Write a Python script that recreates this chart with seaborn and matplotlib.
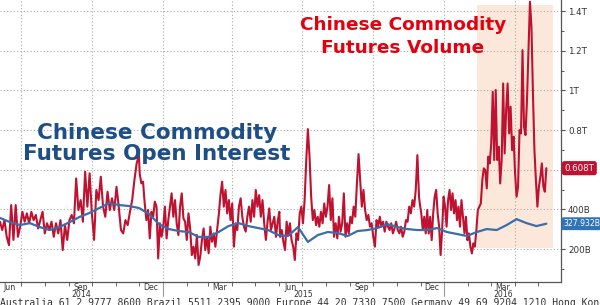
import matplotlib
matplotlib.use("Agg")
import matplotlib.pyplot as plt
import matplotlib.dates as mdates
import matplotlib.transforms as mtransforms
from matplotlib.ticker import MultipleLocator, NullFormatter
import pandas as pd
import seaborn as sns

# ---------------- data (billions) ----------------
# Futures volume in four consecutive stretches
vol_a_span = ("2014-06-04", "2014-12-01")
vol_a = [338, 296, 346, 262, 220, 422, 246, 422, 262, 313, 388, 338, 380, 330, 388,
         346, 372, 304, 346, 388, 279, 330, 296, 338, 262, 330, 279, 346, 195, 321,
         246, 346, 372, 330, 556, 397, 447, 338, 590, 414, 582, 380, 246, 498, 447,
         565, 414, 363, 489, 397, 456, 397, 514, 414, 296, 279, 346, 321, 388, 447,
         548, 632, 674]
vol_b_span = ("2014-12-02", "2015-06-01")
vol_b = [582, 531, 540, 430, 346, 397, 254, 388, 363, 439, 414, 153, 330, 262, 313,
         414, 254, 346, 414, 481, 363, 447, 330, 271, 414, 481, 355, 338, 246, 380,
         304, 170, 212, 153, 271, 120, 162, 246, 304, 195, 262, 179, 313, 237, 279,
         212, 296, 372, 472, 540, 414, 498, 380, 447, 346, 430, 212, 330, 296, 414,
         456, 363, 313, 288, 363, 414, 338, 447, 363, 498, 414, 472, 363, 447, 330,
         246, 338, 405, 296, 330, 363, 262, 338, 388]
vol_c_span = ("2015-06-02", "2015-11-29")
vol_c = [262, 296, 237, 195, 338, 271, 330, 246, 212, 145, 279, 246, 380, 414, 330,
         447, 649, 805, 666, 464, 346, 397, 321, 363, 313, 388, 330, 430, 363, 414,
         523, 346, 456, 262, 330, 254, 363, 288, 330, 481, 262, 330, 279, 363, 330,
         414, 363, 531, 679, 548, 414, 498, 397, 346, 372, 313, 330, 262, 212, 346,
         313, 363, 313, 338, 288, 338, 313, 296, 330, 279, 304, 338, 296, 279, 313,
         262, 288, 346, 338, 414, 380, 447, 414, 498, 674, 464]
vol_d_span = ("2015-11-30", "2016-05-12")
vol_d = [430, 380, 296, 363, 279, 397, 279, 363, 245, 380, 464, 498, 380, 313, 170,
         296, 464, 414, 313, 447, 498, 397, 481, 380, 447, 346, 414, 313, 447, 363,
         279, 363, 245, 279, 212, 178, 229, 212, 296, 397, 414, 430, 548, 607, 598,
         506, 666, 632, 733, 993, 649, 1002, 649, 716, 531, 649, 1035, 682, 901, 1035,
         783, 918, 699, 767, 582, 464, 514, 800, 783, 1203, 817, 775, 951, 1203, 1447,
         1321, 985, 699, 548, 414, 514, 565, 632, 514, 489, 608]

# Open interest
oi_span = ("2014-06-04", "2016-05-12")
oi = [357, 336, 321, 331, 311, 296, 311, 336, 362, 382, 407, 432, 422, 417, 407,
      377, 326, 301, 291, 286, 261, 261, 286, 316, 331, 316, 306, 296, 271, 266,
      311, 236, 271, 286, 281, 266, 291, 296, 306, 326, 311, 301, 296, 296, 306,
      286, 276, 266, 286, 301, 296, 321, 351, 331, 316, 327.932]

y_ticks = [200, 400, 600, 800, 1000, 1200, 1400]
y_tick_labels = ["200B", "400B", "", "0.8T", "1T", "1.2T", "1.4T"]
month_label_dates = ["2014-06-16", "2014-09-16", "2014-12-16", "2015-03-16",
                     "2015-06-16", "2015-09-16", "2015-12-16", "2016-03-16"]
month_labels = ["Jun", "Sep", "Dec", "Mar", "Jun", "Sep", "Dec", "Mar"]
year_labels = ["2014", "2015", "2016"]
x_range = ("2014-06-04", "2016-05-31")
y_range = (34, 1456)
shade_span = ("2016-02-12", "2016-05-21")
shade_levels = (205, 1430)

# ---------------- frames ----------------
parts = []
for span, vals in [(vol_a_span, vol_a), (vol_b_span, vol_b),
                   (vol_c_span, vol_c), (vol_d_span, vol_d)]:
    parts.append(pd.DataFrame({"date": pd.date_range(span[0], span[1], periods=len(vals)),
                               "value": vals}))
vol_df = pd.concat(parts, ignore_index=True)
oi_df = pd.DataFrame({"date": pd.date_range(oi_span[0], oi_span[1], periods=len(oi)),
                      "value": oi})

# ---------------- styling ----------------
sns.set_theme(style="white")
plt.rcParams["font.family"] = ["DejaVu Sans"]

RED = "#bf1130"
BLUE = "#3a6ea8"
RED_TITLE = "#e3000f"
BLUE_TITLE = "#1d4e86"

fig = plt.figure(figsize=(6.0, 3.05), dpi=100)
ax = fig.add_axes([0.0, 23 / 305, 561 / 600, 282 / 305])

ax.set_xlim(mdates.date2num(pd.Timestamp(x_range[0])), mdates.date2num(pd.Timestamp(x_range[1])))
ax.set_ylim(*y_range)

# shaded window
yspan = y_range[1] - y_range[0]
ax.axvspan(mdates.date2num(pd.Timestamp(shade_span[0])), mdates.date2num(pd.Timestamp(shade_span[1])),
           ymin=(shade_levels[0] - y_range[0]) / yspan, ymax=(shade_levels[1] - y_range[0]) / yspan,
           color="#fce8da", lw=0, zorder=0)

sns.lineplot(data=vol_df, x="date", y="value", color=RED, lw=1.5, ax=ax, zorder=3)
sns.lineplot(data=oi_df, x="date", y="value", color=BLUE, lw=1.6, ax=ax, zorder=4)
ax.set_xlabel("")
ax.set_ylabel("")

# axes / grid
ax.xaxis.set_major_locator(mdates.MonthLocator(bymonth=[1, 4, 7, 10]))
ax.xaxis.set_minor_locator(mdates.MonthLocator())
ax.xaxis.set_major_formatter(NullFormatter())
ax.yaxis.tick_right()
ax.set_yticks(y_ticks)
ax.set_yticklabels(y_tick_labels)
ax.yaxis.set_minor_locator(MultipleLocator(100))
ax.grid(True, which="major", color="#aaaaaa", linestyle=(0, (1, 2)), linewidth=0.8)
ax.set_axisbelow(True)

for s in ["left", "top"]:
    ax.spines[s].set_visible(False)
for s in ["right", "bottom"]:
    ax.spines[s].set_color("#555555")
    ax.spines[s].set_linewidth(0.9)

ax.tick_params(axis="y", which="major", length=3, width=0.8, color="#555555",
               labelsize=6.3, labelcolor="#333333", pad=2, right=True, left=False)
ax.tick_params(axis="y", which="minor", length=2, width=0.7, color="#555555", right=True, left=False)
ax.tick_params(axis="x", which="both", length=3, width=0.7, color="#666666",
               bottom=True, labelbottom=False, direction="out")

# month and year labels
bx = mtransforms.blended_transform_factory(ax.transData, ax.transAxes)
for d, lab in zip(month_label_dates, month_labels):
    ax.text(mdates.date2num(pd.Timestamp(d)), -0.002, lab, transform=bx, ha="center", va="top",
            fontsize=5.6, color="#333333", clip_on=False)
x0, x1 = pd.Timestamp(x_range[0]), pd.Timestamp(x_range[1])
for yl in year_labels:
    ys, ye = max(pd.Timestamp(f"{yl}-01-01"), x0), min(pd.Timestamp(f"{yl}-12-31"), x1)
    mid = ys + (ye - ys) / 2
    ax.text(mdates.date2num(mid), -0.029, yl, transform=bx, ha="center", va="top",
            fontsize=5.6, color="#333333", clip_on=False)
    if pd.Timestamp(f"{yl}-01-01") > x0:
        xd = mdates.date2num(pd.Timestamp(f"{yl}-01-01"))
        ax.plot([xd, xd], [0, -0.05], transform=bx, color="#9a9a9a", lw=0.8, clip_on=False)

# last-value tags
by = mtransforms.blended_transform_factory(ax.transAxes, ax.transData)
ax.text(1.006, vol_d[-1], f"{vol_d[-1] / 1000:.3f}T", transform=by, ha="left", va="center",
        fontsize=6.2, color="white", clip_on=False, zorder=6,
        bbox=dict(boxstyle="round,pad=0.3,rounding_size=0.3", fc=RED, ec="none"))
ax.text(1.004, oi[-1], f"{oi[-1]:.3f}B", transform=by, ha="left", va="center",
        fontsize=5.6, color="white", clip_on=False, zorder=6,
        bbox=dict(boxstyle="round,pad=0.25,rounding_size=0.3", fc="#2f73b8", ec="none"))

# titles
fig.text(403 / 600, 1 - 36.5 / 305, "Chinese Commodity\nFutures Volume", ha="center", va="center",
         fontsize=13.3, fontweight="bold", color=RED_TITLE, linespacing=1.35)
fig.text(157 / 600, 1 - 143.5 / 305, "Chinese Commodity\nFutures Open Interest", ha="center",
         va="center", fontsize=15.5, fontweight="bold", color=BLUE_TITLE, linespacing=1.12)

# contact footer (cut off at the bottom as in the source)
fig.text(0.0, 1 - 298.5 / 305,
         "Australia 61 2 9777 8600 Brazil 5511 2395 9000 Europe 44 20 7330 7500 "
         "Germany 49 69 9204 1210 Hong Kong 852 2977 6000",
         ha="left", va="top", fontsize=7, family="DejaVu Sans Mono", color="#333333")

fig.savefig("out.png", dpi=100)
